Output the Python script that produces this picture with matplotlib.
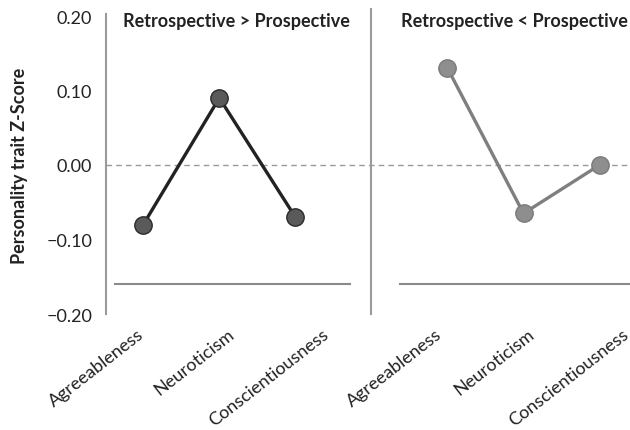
import matplotlib
matplotlib.use("Agg")
import matplotlib.pyplot as plt
import matplotlib.transforms as mtransforms

# データ
traits = ["Agreeableness", "Neuroticism", "Conscientiousness"]
retro_gt_pro = [-0.08, 0.09, -0.07]
retro_lt_pro = [0.13, -0.065, 0.00]
panel_titles = ["Retrospective > Prospective", "Retrospective < Prospective"]
yticks = [-0.20, -0.10, 0.00, 0.10, 0.20]

plt.rcParams["font.family"] = ["Lato", "DejaVu Sans"]

fig = plt.figure(figsize=(6.3, 4.31), dpi=100)
ax = fig.add_axes([106 / 630, (431 - 315) / 431, 524 / 630, 298 / 431])

x_left = [0, 1, 2]
x_right = [4, 5, 6]

# ゼロの破線
ax.axhline(0, color="#9a9a9a", lw=1.0, ls=(0, (4, 3)), zorder=1)

# 各パネルの下の横線
ax.plot([-0.37, 2.72], [-0.16, -0.16], color="#8a8a8a", lw=1.5, zorder=1)
ax.plot([3.38, 6.5], [-0.16, -0.16], color="#8a8a8a", lw=1.5, zorder=1)

# パネルの区切り線
ax.plot([3, 3], [-0.2, 0.209], color="#9a9a9a", lw=1.5, clip_on=False, zorder=1)

ax.plot(x_left, retro_gt_pro, color="#222222", lw=2.4, marker="o", ms=12.5,
        mfc="#5a5a5a", mec="#2a2a2a", mew=1.0, zorder=3)
ax.plot(x_right, retro_lt_pro, color="#7f7f7f", lw=2.4, marker="o", ms=12.5,
        mfc="#8e8e8e", mec="#7a7a7a", mew=1.0, zorder=3)

ax.set_xlim(-0.49, 6.4)
ax.set_ylim(-0.2, 0.2)

for s in ["top", "right", "bottom"]:
    ax.spines[s].set_visible(False)
ax.spines["left"].set_color("#9a9a9a")
ax.spines["left"].set_linewidth(1.5)
ax.spines["left"].set_bounds(-0.2, 0.203)

ax.set_yticks(yticks)
ax.set_yticklabels(["\u22120.20", "\u22120.10", "0.00", "0.10", "0.20"])
ax.tick_params(axis="y", length=0, pad=10, labelsize=13, labelcolor="#222222")

ax.set_xticks(x_left + x_right)
ax.set_xticklabels(traits + traits)
ax.tick_params(axis="x", length=0, pad=8, labelsize=13, labelcolor="#222222")
offsets = [-6, 8, 26, -13, 4, 22]
for lab, dx in zip(ax.get_xticklabels(), offsets):
    lab.set_rotation(38)
    lab.set_ha("right")
    lab.set_va("top")
    lab.set_rotation_mode("anchor")
    lab.set_transform(lab.get_transform() + mtransforms.ScaledTranslation(dx / 100, 0, fig.dpi_scale_trans))

ax.set_ylabel("Personality trait Z-Score", fontsize=13, fontweight="bold",
              color="#222222")
ax.yaxis.set_label_coords(-0.149, 0.5)

ax.text(1.219, 0.194, panel_titles[0], ha="center", va="center",
        fontsize=13, fontweight="bold", color="#222222")
ax.text(4.875, 0.194, panel_titles[1], ha="center", va="center",
        fontsize=13, fontweight="bold", color="#222222")

fig.savefig("out.png", dpi=100, facecolor="white")
